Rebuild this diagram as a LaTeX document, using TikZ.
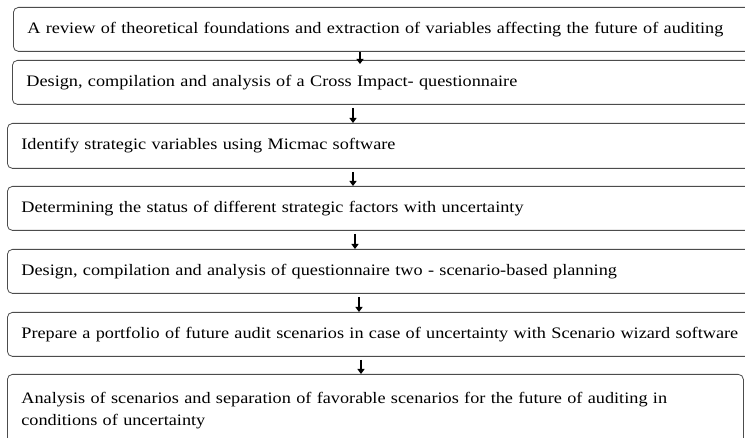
\documentclass[tikz,border=0pt]{standalone}
\usepackage{fontspec}
\setmainfont[FakeStretch=1.14, WordSpace=0.9]{Liberation Serif}
\usetikzlibrary{arrows.meta}

\begin{document}
\begin{tikzpicture}[
            x=1pt, y=-1pt,
            etapa/.style={shape=rectangle, rounded corners=5pt, draw=black!70, line width=0.8pt,
                anchor=north west, align=left, inner xsep=14pt, inner ysep=0pt,
                minimum height=44pt, font=\fontsize{16}{22}\selectfont},
            seta/.style={line width=2pt, -{Triangle[length=5pt, width=7pt]}},
        ]
        \useasboundingbox (0,0) rectangle (745,438);

        \node[etapa, text width=745pt] (b1) at (13, 7) {A review of theoretical foundations and extraction of variables affecting the future of auditing};
        \node[etapa, text width=745pt] (b2) at (12, 60) {Design, compilation and analysis of a Cross Impact- questionnaire};
        \node[etapa, text width=750pt, minimum height=45pt] (b3) at (7, 123) {Identify strategic variables using Micmac software};
        \node[etapa, text width=750pt] (b4) at (7, 186) {Determining the status of different strategic factors with uncertainty};
        \node[etapa, text width=750pt] (b5) at (7, 249) {Design, compilation and analysis of questionnaire two - scenario-based planning};
        \node[etapa, text width=750pt] (b6) at (7, 312) {Prepare a portfolio of future audit scenarios in case of uncertainty with Scenario wizard software};
        \node[etapa, text width=708pt, minimum height=72pt] (b7) at (7, 374) {Analysis of scenarios and separation of favorable scenarios for the future of auditing in\\conditions of uncertainty};

        \draw[seta] (b1.south -| 360,0) -- ([yshift=-4pt]b2.north -| 360,0);
        \draw[seta, shorten <=3pt] (b2.south -| 353,0) -- (b3.north -| 353,0);
        \draw[seta, shorten <=3pt] (b3.south -| 353,0) -- (b4.north -| 353,0);
        \draw[seta, shorten <=3pt] (b4.south -| 355,0) -- (b5.north -| 355,0);
        \draw[seta, shorten <=3pt] (b5.south -| 359,0) -- (b6.north -| 359,0);
        \draw[seta, shorten <=3pt] (b6.south -| 361,0) -- (b7.north -| 361,0);

    \end{tikzpicture}
\end{document}
